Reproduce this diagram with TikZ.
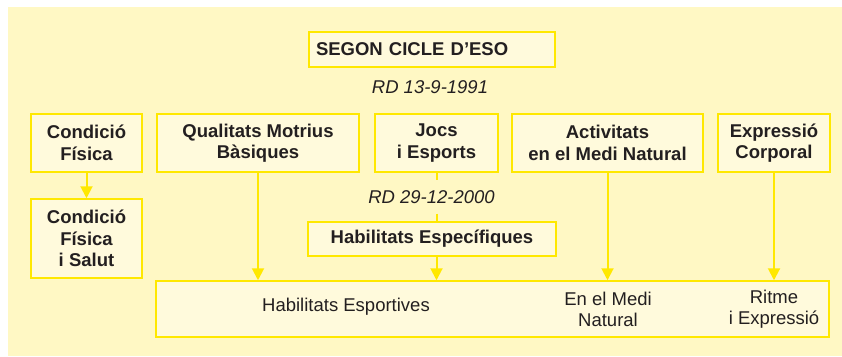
\documentclass[tikz,border=0pt]{standalone}
\usepackage{fontspec}
\setmainfont{Liberation Sans}
\usetikzlibrary{arrows.meta}
\definecolor{fonsgroc}{HTML}{FFF8C4}
\definecolor{caixagroc}{HTML}{FFFADC}
\definecolor{liniagroc}{HTML}{FFE800}
\definecolor{lletra}{HTML}{231F20}

\begin{document}
\begin{tikzpicture}[x=1pt,y=-1pt,
    caixa/.style={draw=liniagroc, line width=1.5pt, fill=caixagroc, text=lletra, align=center, inner sep=0pt,
      font=\fontsize{18.5}{21.5}\selectfont\bfseries},
    lletres/.style={text=lletra, align=center, inner sep=0pt, font=\fontsize{18.5}{21}\selectfont},
    data/.style={text=lletra, fill=fonsgroc, inner xsep=3pt, minimum height=33pt, font=\fontsize{18.5}{21}\selectfont\itshape},
    linia/.style={draw=liniagroc, line width=2pt},
    fletxa/.style={linia, -{Triangle[length=12pt,width=12pt]}}]
        \useasboundingbox (0,0) rectangle (842,356);
        \fill[fonsgroc] (8,7) rectangle (842,356); % fons de tot el quadre

        % titol i primer decret
        \node[caixa, minimum width=246pt, minimum height=35pt, text width=232pt, align=left] (segon) at (432,49.5) {SEGON CICLE D'ESO};
        \node[data, fill=none] (rd1) at (430,87) {RD 13-9-1991};

        % blocs del 1991
        \node[caixa, minimum width=111pt, minimum height=58pt] (condicio) at (86.5,143) {Condició\\Física};
        \node[caixa, minimum width=202pt, minimum height=58pt] (qualitats) at (258,143) {Qualitats Motrius\\Bàsiques};
        \node[caixa, minimum width=123pt, minimum height=58pt] (jocs) at (436.5,143) {Jocs\\i Esports};
        \node[caixa, minimum width=191pt, minimum height=58pt] (activitats) at (607.5,143) {Activitats\\en el Medi Natural};
        \node[caixa, minimum width=112pt, minimum height=58pt] (expressio) at (774,143) {Expressió\\Corporal};

        % blocs del 2000
        \node[caixa, minimum width=111pt, minimum height=79pt] (salut) at (86.5,238.5) {Condició\\Física\\i Salut};
        \node[data] (rd2) at (431.5,197) {RD 29-12-2000};
        \node[caixa, minimum width=248pt, minimum height=34pt] (especifiques) at (432,239) {Habilitats Específiques};
        \node[caixa, minimum width=673pt, minimum height=56pt] (esportives) at (492.5,309) {};
        \node[lletres] (hesport) at (346,307) {Habilitats Esportives};
        \node[lletres] (medi) at (608,309) {En el Medi\\Natural};
        \node[lletres] (ritme) at (774,309) {Ritme\\i Expressió};

        % connexions
        \draw[fletxa] (condicio) -- (salut);
        \draw[fletxa] (qualitats) -- (qualitats.south |- esportives.north);
        \draw[linia] (jocs) -- (jocs.south |- rd2.north);
        \draw[linia] (jocs.south |- rd2.south) -- (jocs.south |- especifiques.north);
        \draw[fletxa] (jocs.south |- especifiques.south) -- (jocs.south |- esportives.north);
        \draw[fletxa] (activitats) -- (activitats.south |- esportives.north);
        \draw[fletxa] (expressio) -- (expressio.south |- esportives.north);
    \end{tikzpicture}
\end{document}
